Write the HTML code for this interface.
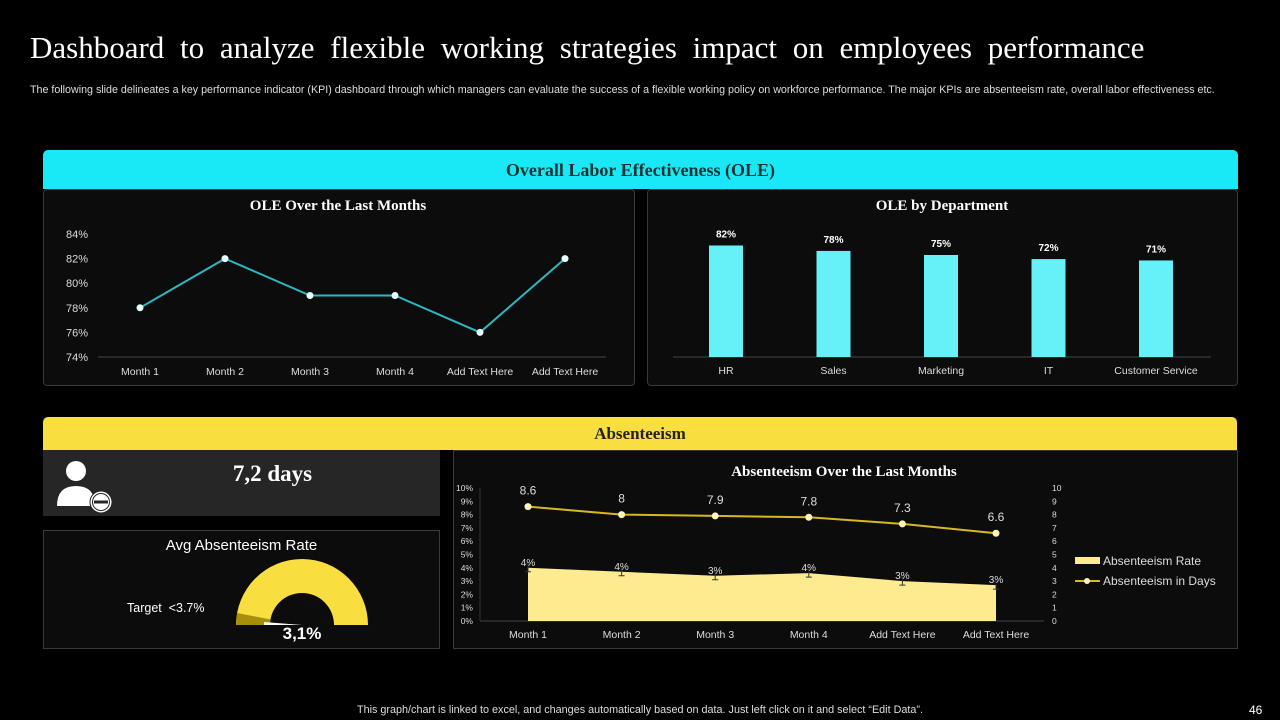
<!DOCTYPE html>
<html><head><meta charset="utf-8">
<style>
body{margin:0;width:1280px;height:720px;background:#000;overflow:hidden;font-family:"Liberation Sans",sans-serif;color:#fff;position:relative}
.abs{position:absolute}
.serif{font-family:"Liberation Serif",serif}
.panel{position:absolute;background:#0c0c0c;border:1px solid #3a3a3a;border-radius:4px;box-sizing:border-box}
</style></head><body>
<div class="abs serif" style="left:30px;top:30px;font-size:31px;word-spacing:8px;white-space:nowrap">Dashboard to analyze flexible working strategies impact on employees performance</div>
<div class="abs" style="left:30px;top:84px;font-size:10.7px;color:#ddd;white-space:nowrap">The following slide delineates a key performance indicator (KPI) dashboard through which managers can evaluate the success of a flexible working policy on workforce performance. The major KPIs  are absenteeism rate, overall labor effectiveness etc.</div>

<div class="abs serif" style="left:43px;top:150px;width:1195px;height:39px;background:#19e9f6;border-radius:5px 5px 0 0;color:#163333;font-weight:bold;font-size:18px;text-align:center;line-height:40px">Overall Labor Effectiveness (OLE)</div>
<div class="panel" style="left:43px;top:189px;width:592px;height:197px"></div>
<div class="panel" style="left:647px;top:189px;width:591px;height:197px"></div>

<div class="abs serif" style="left:43px;top:417px;width:1194px;height:33px;background:#f9de40;border-radius:5px 5px 0 0;color:#222;font-weight:bold;font-size:17px;text-align:center;line-height:34px">Absenteeism</div>
<div class="abs" style="left:43px;top:450px;width:397px;height:66px;background:#262626"></div>
<div class="abs serif" style="left:200px;top:461px;width:145px;text-align:center;font-size:23px;font-weight:bold">7,2 days</div>
<svg class="abs" style="left:52px;top:456px" width="64" height="60">
<circle cx="24" cy="15" r="10" fill="#fff"/><path d="M5 50 Q5 30 24 30 Q43 30 43 50 Z" fill="#fff"/>
<circle cx="49" cy="46" r="11" fill="#fff" stroke="#262626" stroke-width="1"/><circle cx="49" cy="46" r="9" fill="#262626"/><circle cx="49" cy="46" r="8" fill="#fff"/><rect x="42" y="44.5" width="14" height="3" fill="#262626"/>
</svg>
<div class="panel" style="left:43px;top:530px;width:397px;height:119px;border-radius:0"></div>
<div class="abs" style="left:43px;top:537px;width:397px;text-align:center;font-size:15px;">Avg Absenteeism Rate</div>
<div class="abs" style="left:127px;top:601px;font-size:12.5px">Target &nbsp;&lt;3.7%</div>
<svg class="abs" style="left:230px;top:555px" width="150" height="75">
<path d="M6 70 A66 66 0 0 1 138 70 L104 70 A32 32 0 0 0 40 70 Z" fill="#f9de40"/>
<path d="M6 70 A66 66 0 0 1 7.2 58 L40.5 64.5 A32 32 0 0 0 40 70 Z" fill="#a88f0a"/>
<polygon points="34,67 72,70 34,70" fill="#fff"/>
</svg>
<div class="abs" style="left:270px;top:624px;width:64px;text-align:center;font-size:17px;font-weight:bold">3,1%</div>
<div class="panel" style="left:453px;top:450px;width:785px;height:199px;border-radius:0"></div>

<div class="abs" style="left:0;width:1280px;top:704px;text-align:center;font-size:10.8px;color:#ddd;white-space:nowrap">This graph/chart is linked to excel, and changes automatically based on data. Just left click on it and select “Edit Data”.</div>
<div class="abs" style="left:1249px;top:703px;font-size:12px">46</div>

<svg id="s" class="abs" style="left:0;top:0" width="1280" height="720"></svg>
<script>
const oleCats=["Month 1","Month 2","Month 3","Month 4","Add Text Here","Add Text Here"];
const oleVals=[78,82,79,79,76,82];
const oleTicks=[74,76,78,80,82,84];
const deptCats=["HR","Sales","Marketing","IT","Customer Service"];
const deptVals=[82,78,75,72,71];
const absCats=["Month 1","Month 2","Month 3","Month 4","Add Text Here","Add Text Here"];
const absRate=[4.0,3.7,3.4,3.6,3.0,2.7];
const absRateLabels=["4%","4%","3%","4%","3%","3%"];
const absDays=[8.6,8,7.9,7.8,7.3,6.6];
const leftTicks=[0,1,2,3,4,5,6,7,8,9,10];
const rightTicks=[0,1,2,3,4,5,6,7,8,9,10];

const s=document.getElementById('s');const NS="http://www.w3.org/2000/svg";
function mk(t,a,txt){const e=document.createElementNS(NS,t);for(const k in a)e.setAttribute(k,a[k]);if(txt!==undefined)e.textContent=txt;s.appendChild(e);return e;}
const F='"Liberation Sans",sans-serif', FS='"Liberation Serif",serif';

// OLE line chart
let t=mk('text',{x:338,y:210,'text-anchor':'middle','font-family':FS,'font-size':15,'font-weight':'bold',fill:'#fff'},'OLE Over the Last Months');

const lx=i=>140+i*85, ly=v=>357-(v-74)*12.3;
let a=mk('line',{x1:98,y1:357,x2:606,y2:357,stroke:'#444'});
oleTicks.forEach(v=>{const e=mk('text',{x:88,y:ly(v)+4,'text-anchor':'end','font-family':F,'font-size':11,fill:'#ddd'},v+'%');});
oleCats.forEach((c,i)=>{const e=mk('text',{x:lx(i),y:375,'text-anchor':'middle','font-family':F,'font-size':10.5,fill:'#ddd'},c);});
let p=mk('polyline',{points:oleVals.map((v,i)=>lx(i)+','+ly(v)).join(' '),fill:'none',stroke:'#2bb8c0','stroke-width':2});

oleVals.forEach((v,i)=>{const e=mk('circle',{cx:lx(i),cy:ly(v),r:3.5,fill:'#e8ffff'});});

// OLE bar chart
t=mk('text',{x:942,y:210,'text-anchor':'middle','font-family':FS,'font-size':15,'font-weight':'bold',fill:'#fff'},'OLE by Department');

const bx=i=>726+i*107.5, bh=v=>v*1.36;
a=mk('line',{x1:673,y1:357,x2:1211,y2:357,stroke:'#444'});
deptVals.forEach((v,i)=>{
 const r=mk('rect',{x:bx(i)-17,y:357-bh(v),width:34,height:bh(v),fill:'#66f0f8'});
 const l=mk('text',{x:bx(i),y:357-bh(v)-8,'text-anchor':'middle','font-family':F,'font-size':10,'font-weight':'bold',fill:'#fff'},v+'%');
 const c=mk('text',{x:bx(i),y:374,'text-anchor':'middle','font-family':F,'font-size':10.5,fill:'#ddd'},deptCats[i]);
});

// Absenteeism chart
t=mk('text',{x:844,y:476,'text-anchor':'middle','font-family':FS,'font-size':15,'font-weight':'bold',fill:'#fff'},'Absenteeism Over the Last Months');

const ax=i=>528+i*93.6, ayL=v=>621-v*13.3, ayR=v=>621-v*13.3;
leftTicks.forEach(v=>{const e=mk('text',{x:473,y:ayL(v)+3,'text-anchor':'end','font-family':F,'font-size':8.5,fill:'#ddd'},v+'%');});
rightTicks.forEach(v=>{const e=mk('text',{x:1052,y:ayR(v)+3,'font-family':F,'font-size':8.5,fill:'#ddd'},v);});
a=mk('line',{x1:480,y1:621,x2:1044,y2:621,stroke:'#444'});
a=mk('line',{x1:480,y1:488,x2:480,y2:621,stroke:'#333'});
let area=mk('polygon',{points:ax(0)+',621 '+absRate.map((v,i)=>ax(i)+','+ayL(v)).join(' ')+' '+ax(absRate.length-1)+',621',fill:'#feeb8f'});

absRate.forEach((v,i)=>{
 const eb=mk('path',{d:`M${ax(i)-3} ${ayL(v)-4}h6M${ax(i)} ${ayL(v)-4}v8M${ax(i)-3} ${ayL(v)+4}h6`,stroke:'#333','stroke-width':1,fill:'none'});
 const l=mk('text',{x:ax(i),y:ayL(v)-2,'text-anchor':'middle','font-family':F,'font-size':10,fill:'#ddd'},absRateLabels[i]);
});
p=mk('polyline',{points:absDays.map((v,i)=>ax(i)+','+ayR(v)).join(' '),fill:'none',stroke:'#d8b820','stroke-width':2});

absDays.forEach((v,i)=>{
 const c=mk('circle',{cx:ax(i),cy:ayR(v),r:3.5,fill:'#fff5b8'});
 const l=mk('text',{x:ax(i),y:ayR(v)-12,'text-anchor':'middle','font-family':F,'font-size':12,fill:'#ddd'},v);
});
absCats.forEach((c,i)=>{const e=mk('text',{x:ax(i),y:638,'text-anchor':'middle','font-family':F,'font-size':10.5,fill:'#ddd'},c);});
// legend
let lg=mk('rect',{x:1075,y:557,width:25,height:7,fill:'#feeb8f'});
lg=mk('text',{x:1103,y:565,'font-family':F,'font-size':12,fill:'#ddd'},'Absenteeism Rate');
lg=mk('line',{x1:1075,y1:581,x2:1100,y2:581,stroke:'#d8b820','stroke-width':2});
lg=mk('circle',{cx:1087,cy:581,r:3,fill:'#fff5b8'});
lg=mk('text',{x:1103,y:585,'font-family':F,'font-size':12,fill:'#ddd'},'Absenteeism in Days');
</script>
</body></html>
